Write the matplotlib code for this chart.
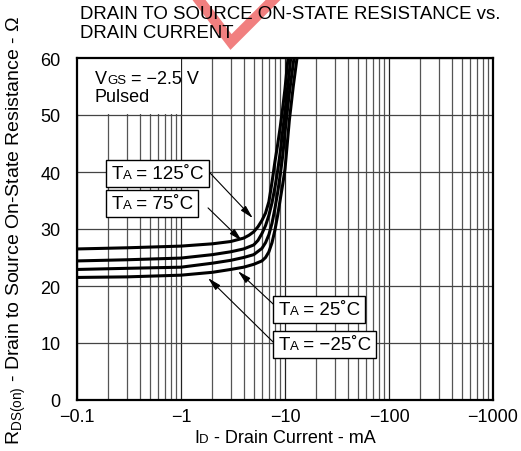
import numpy as np
import matplotlib
matplotlib.use("Agg")
import matplotlib.pyplot as plt
from matplotlib.offsetbox import TextArea, HPacker, VPacker, AnnotationBbox
from matplotlib.lines import Line2D
from matplotlib.patches import Rectangle
from matplotlib.ticker import FixedLocator, NullFormatter

plt.rcParams['font.family'] = ['Liberation Sans', 'DejaVu Sans']
plt.rcParams['mathtext.fontset'] = 'custom'
plt.rcParams['mathtext.rm'] = 'Liberation Sans'

# drain current (mA) and RDS(on) (ohm)
id_125 = [-0.1, -0.3, -1, -2, -3, -4, -4.5, -5, -5.5, -6, -6.5, -7, -7.5, -8, -8.5, -9, -9.5, -10, -10.6, -11]
r_125 = [26.5, 26.7, 27.0, 27.4, 27.8, 28.4, 28.9, 29.5, 30.4, 31.5, 32.8, 34.8, 38.2, 41.8, 44.8, 47.9, 51.2, 54.6, 59.3, 62.0]

id_75 = [-0.1, -0.3, -1, -2, -3, -4, -5, -5.5, -6, -6.5, -7, -7.5, -8, -8.5, -9, -9.5, -10, -11, -11.5]
r_75 = [24.4, 24.6, 24.9, 25.5, 26.0, 26.5, 27.2, 28.0, 29.2, 30.6, 32.4, 34.6, 37.3, 40.2, 43.5, 47.2, 50.6, 57.5, 61.0]

id_25 = [-0.1, -0.3, -1, -2, -3, -4, -5, -6, -6.5, -7, -7.5, -8, -8.5, -9, -9.5, -10, -11, -12, -12.5]
r_25 = [22.9, 23.1, 23.3, 24.0, 24.5, 25.0, 25.5, 26.6, 27.6, 29.0, 31.0, 33.6, 36.4, 39.5, 42.8, 47.0, 53.8, 59.0, 61.5]

id_m25 = [-0.1, -0.3, -1, -2, -3, -4, -5, -6, -6.5, -7, -7.5, -8, -8.5, -9, -9.5, -10, -11, -12, -13, -13.5]
r_m25 = [21.5, 21.6, 21.9, 22.4, 22.9, 23.3, 23.8, 24.4, 25.0, 26.0, 27.6, 29.8, 32.4, 35.2, 37.8, 40.5, 49.0, 55.0, 59.8, 62.0]

x_major = [0.1, 1, 10, 100, 1000]
x_labels = ["\u22120.1", "\u22121", "\u221210", "\u2212100", "\u22121000"]
y_ticks = [0, 10, 20, 30, 40, 50, 60]

FS = 13
SUB = 9.5


def rich(parts):
    # row of text pieces sharing one baseline (small letters for subscripts)
    kids = [TextArea(s, textprops=dict(fontsize=fs, color='black')) for s, fs in parts]
    return HPacker(children=kids, align='baseline', pad=0, sep=0)


fig = plt.figure(figsize=(5.21, 4.52), dpi=100)
ax = fig.add_axes([77/521, 51/452, 416/521, 342/452])

ax.set_xscale('log')
ax.set_xlim(0.1, 1000)
ax.set_ylim(0, 60)

# grid on every log minor position
ax.xaxis.set_major_locator(FixedLocator(x_major))
minor = [m * d for d in [0.1, 1, 10, 100] for m in range(2, 10)]
ax.xaxis.set_minor_locator(FixedLocator(minor))
ax.xaxis.set_minor_formatter(NullFormatter())
ax.set_xticklabels(x_labels)
ax.set_yticks(y_ticks)
ax.grid(True, which='minor', axis='x', color='#555555', lw=0.9)
ax.grid(True, which='major', axis='x', color='#222222', lw=0.9)
ax.grid(True, which='major', axis='y', color='#444444', lw=0.9)
ax.set_axisbelow(True)
ax.tick_params(which='both', length=0, labelsize=FS)
ax.tick_params(axis='x', pad=6)
ax.tick_params(axis='y', pad=12)
for s in ax.spines.values():
    s.set_linewidth(1.6)

# white patch behind the test condition text
ax.add_patch(Rectangle((0.1, 50.2), 0.9, 9.8, facecolor='white', edgecolor='none', zorder=1))

for i_ma, r in [(id_125, r_125), (id_75, r_75), (id_25, r_25), (id_m25, r_m25)]:
    ax.plot(-np.array(i_ma), r, color='black', lw=2.2, zorder=3, solid_capstyle='butt')

# VGS / Pulsed
cond = VPacker(children=[rich([("V", FS), ("GS", SUB), (" = \u22122.5 V", FS)]),
                         TextArea("Pulsed", textprops=dict(fontsize=FS))],
               align='left', pad=0, sep=1)
ax.add_artist(AnnotationBbox(cond, (0.043, 0.965), xycoords='axes fraction',
                             box_alignment=(0, 1), frameon=False, pad=0, zorder=4))

# temperature labels: (text, box left-center, arrow start, arrow tip)
labels = [
    ("125\u02daC", (0.213, 39.8), (1.82, 40.2), (4.9, 31.9)),
    ("75\u02daC", (0.213, 34.5), (1.82, 33.7), (3.86, 27.9)),
    ("25\u02daC", (8.6, 15.9), (7.84, 16.7), (3.53, 22.6)),
    ("\u221225\u02daC", (8.6, 9.7), (7.66, 10.2), (1.82, 21.4)),
]
for txt, box, start, tip in labels:
    ax.annotate('', xy=tip, xytext=start,
                arrowprops=dict(arrowstyle='-|>,head_length=0.8,head_width=0.2',
                                color='black', lw=0.8, shrinkA=0, shrinkB=0), zorder=4)
    ab = AnnotationBbox(rich([("T", 13.5), ("A", SUB), (" = " + txt, 13.5)]), box,
                        xycoords='data', box_alignment=(0, 0.5), frameon=True, pad=0.35,
                        bboxprops=dict(edgecolor='black', facecolor='white', lw=1.0), zorder=5)
    ax.add_artist(ab)

# x label with baseline-level small "D"
xlab = rich([("I", FS), ("D", SUB), (" - Drain Current - mA", FS)])
ax.add_artist(AnnotationBbox(xlab, (0.5, -0.085), xycoords='axes fraction',
                             box_alignment=(0.5, 1), frameon=False, pad=0,
                             annotation_clip=False))
ax.set_ylabel("R$_{\\mathregular{DS(on)}}$ - Drain to Source On-State Resistance - \u03a9", fontsize=14)
ax.yaxis.set_label_coords(-0.118, 0.5)

fig.text(80/521, 1 - 6/452, "DRAIN TO SOURCE ON-STATE RESISTANCE vs.\nDRAIN CURRENT",
         fontsize=13.4, ha='left', va='top', linespacing=1.15)

# red check mark stamp near the title
fig.add_artist(Line2D([196/521, 231/521, 277/521], [1 + 3/452, 1 - 43/452, 1 + 3/452],
                      color='#e82a2a', alpha=0.6, lw=7.5, solid_joinstyle='miter'))

fig.savefig("out.png", dpi=100)
